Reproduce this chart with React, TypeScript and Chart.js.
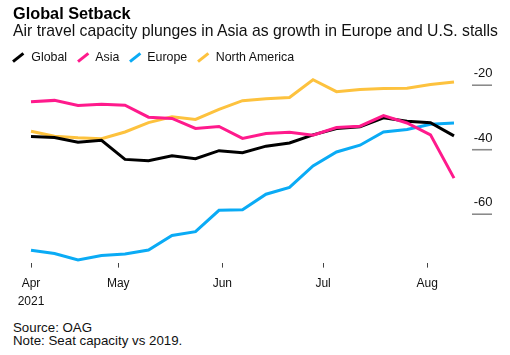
import React, { useEffect, useRef } from "react";
import { Chart, registerables } from "chart.js";

Chart.register(...registerables);

const dates = [
  "2021-04-05", "2021-04-12", "2021-04-19", "2021-04-26", "2021-05-03",
  "2021-05-10", "2021-05-17", "2021-05-24", "2021-05-31", "2021-06-07",
  "2021-06-14", "2021-06-21", "2021-06-28", "2021-07-05", "2021-07-12",
  "2021-07-19", "2021-07-26", "2021-08-02", "2021-08-09",
];

const globalVals = [-35.9, -36.2, -37.7, -37.1, -43.0, -43.4, -41.9, -42.8, -40.3, -40.9, -38.9, -37.9, -35.4, -33.4, -32.9, -30.1, -31.2, -31.6, -35.7];
const asiaVals = [-25.1, -24.7, -26.3, -25.9, -26.2, -29.9, -30.3, -33.4, -32.8, -36.5, -35.0, -34.6, -35.5, -33.1, -32.7, -29.4, -31.7, -35.4, -48.8];
const europeVals = [-71.2, -72.2, -74.2, -72.8, -72.3, -71.1, -66.6, -65.4, -58.8, -58.6, -53.8, -51.7, -45.0, -40.7, -38.6, -34.5, -33.7, -32.1, -31.7];
const northAmericaVals = [-34.3, -35.8, -36.3, -36.6, -34.5, -31.6, -29.8, -30.6, -27.5, -24.8, -24.2, -23.8, -18.3, -22.0, -21.3, -21.0, -20.9, -19.8, -19.0];

const xTickDates = ["2021-04-05", "2021-05-01", "2021-06-01", "2021-07-01", "2021-08-01"];
const xTickLabels: (string | string[])[] = [["Apr", "2021"], "May", "Jun", "Jul", "Aug"];
const yTicks = [-20, -40, -60];

const seriesNames = ["Global", "Asia", "Europe", "North America"];
const seriesColors = ["#000000", "#ff1a8c", "#0aabf5", "#fdc23e"];

const FONT = '"Liberation Sans", Arial, Helvetica, sans-serif';

const DAY = 86400000;
const startMs = Date.parse(dates[0]);
const toDay = (d: string) => (Date.parse(d) - startMs) / DAY;

const yLabelPlugin = {
  id: "yLabels",
  afterDraw(chart: any) {
    const { ctx, scales } = chart;
    const y = scales.y;
    ctx.save();
    yTicks.forEach((v) => {
      const py = y.getPixelForValue(v);
      ctx.strokeStyle = "#8a8a8a";
      ctx.lineWidth = 1.6;
      ctx.beginPath();
      ctx.moveTo(472, py);
      ctx.lineTo(492, py);
      ctx.stroke();
      ctx.fillStyle = "#111";
      ctx.font = `13px ${FONT}`;
      ctx.textAlign = "right";
      ctx.textBaseline = "alphabetic";
      ctx.fillText(String(v), 492.5, py - 8);
    });
    ctx.restore();
  },
};

export default function App() {
  const canvasRef = useRef<HTMLCanvasElement | null>(null);

  useEffect(() => {
    const canvas = canvasRef.current;
    if (!canvas) return;
    const xs = dates.map(toDay);
    const mk = (vals: number[]) => vals.map((v, i) => ({ x: xs[i], y: v }));
    const datasetsAll = [
      { label: seriesNames[1], data: mk(asiaVals), borderColor: seriesColors[1] },
      { label: seriesNames[0], data: mk(globalVals), borderColor: seriesColors[0] },
      { label: seriesNames[2], data: mk(europeVals), borderColor: seriesColors[2] },
      { label: seriesNames[3], data: mk(northAmericaVals), borderColor: seriesColors[3] },
    ].map((d) => ({
      ...d,
      borderWidth: 3,
      pointRadius: 0,
      tension: 0,
      fill: false,
      clip: 4,
    }));

    const tickDays = xTickDates.map(toDay);

    const chart = new Chart(canvas, {
      type: "line",
      data: { datasets: datasetsAll as any },
      options: {
        animation: false,
        responsive: false,
        devicePixelRatio: 1,
        layout: { padding: { left: 31, right: 56, top: 69.1, bottom: 0.4 } },
        plugins: { legend: { display: false }, tooltip: { enabled: false }, title: { display: false } },
        scales: {
          x: {
            type: "linear",
            min: 0,
            max: toDay(dates[dates.length - 1]),
            afterBuildTicks: (axis: any) => {
              axis.ticks = tickDays.map((v) => ({ value: v }));
            },
            grid: {
              display: true,
              drawOnChartArea: false,
              drawTicks: true,
              tickLength: 5,
              color: "#444",
              lineWidth: 1,
            },
            border: { display: false },
            ticks: {
              autoSkip: false,
              maxRotation: 0,
              padding: 7,
              color: "#111",
              font: { family: FONT, size: 12, lineHeight: 1.5 },
              callback: (value: any) => {
                const idx = tickDays.indexOf(Number(value));
                return idx >= 0 ? xTickLabels[idx] : "";
              },
            },
          },
          y: {
            display: false,
            min: -75,
            max: -15,
          },
        },
      },
      plugins: [yLabelPlugin],
    });
    return () => chart.destroy();
  }, []);

  const legendItems = [
    { name: seriesNames[0], color: seriesColors[0], mx: 13.3, tx: 31.3 },
    { name: seriesNames[1], color: seriesColors[1], mx: 77.7, tx: 95.3 },
    { name: seriesNames[2], color: seriesColors[2], mx: 129.7, tx: 147.3 },
    { name: seriesNames[3], color: seriesColors[3], mx: 197.7, tx: 215.7 },
  ];

  const abs = (style: React.CSSProperties): React.CSSProperties => ({
    position: "absolute",
    whiteSpace: "nowrap",
    fontFamily: FONT,
    margin: 0,
    ...style,
  });

  return (
    <div style={{ position: "absolute", left: 0, top: 0, width: 510, height: 355, background: "#fff", overflow: "hidden" }}>
      <canvas ref={canvasRef} width={510} height={318} style={{ position: "absolute", left: 0, top: 0, width: 510, height: 318 }} />
      <div style={abs({ left: 13, top: 2.6, fontSize: 16.3, lineHeight: "20px", fontWeight: "bold", color: "#000" })}>Global Setback</div>
      <div style={abs({ left: 13, top: 20.9, fontSize: 15.75, lineHeight: "20px", color: "#111" })}>
        Air travel capacity plunges in Asia as growth in Europe and U.S. stalls
      </div>
      {legendItems.map((it) => (
        <React.Fragment key={it.name}>
          <svg style={{ position: "absolute", left: it.mx - 2, top: 50 }} width={15} height={14}>
            <line x1={2} y1={11.7} x2={12.4} y2={3.3} stroke={it.color} strokeWidth={3} />
          </svg>
          <div style={abs({ left: it.tx, top: 49.2, fontSize: 12.4, lineHeight: "16px", color: "#111" })}>{it.name}</div>
        </React.Fragment>
      ))}
      <div style={abs({ left: 13, top: 319.8, fontSize: 13.3, lineHeight: "16px", color: "#111" })}>Source: OAG</div>
      <div style={abs({ left: 13, top: 333.3, fontSize: 13.3, lineHeight: "16px", color: "#111" })}>Note: Seat capacity vs 2019.</div>
    </div>
  );
}
